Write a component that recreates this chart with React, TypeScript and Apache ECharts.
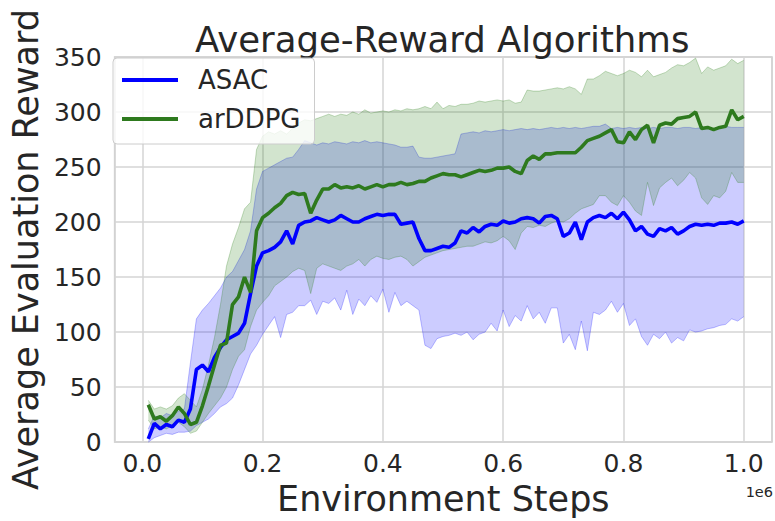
import React, { useEffect, useRef } from "react";
import * as echarts from "echarts";

// Environment steps (in units of 1e6)
const steps = [
  0.01, 0.02, 0.03, 0.04, 0.05, 0.06, 0.07, 0.08, 0.09, 0.1,
  0.11, 0.12, 0.13, 0.14, 0.15, 0.16, 0.17, 0.18, 0.19, 0.2,
  0.21, 0.22, 0.23, 0.24, 0.25, 0.26, 0.27, 0.28, 0.29, 0.3,
  0.31, 0.32, 0.33, 0.34, 0.35, 0.36, 0.37, 0.38, 0.39, 0.4,
  0.41, 0.42, 0.43, 0.44, 0.45, 0.46, 0.47, 0.48, 0.49, 0.5,
  0.51, 0.52, 0.53, 0.54, 0.55, 0.56, 0.57, 0.58, 0.59, 0.6,
  0.61, 0.62, 0.63, 0.64, 0.65, 0.66, 0.67, 0.68, 0.69, 0.7,
  0.71, 0.72, 0.73, 0.74, 0.75, 0.76, 0.77, 0.78, 0.79, 0.8,
  0.81, 0.82, 0.83, 0.84, 0.85, 0.86, 0.87, 0.88, 0.89, 0.9,
  0.91, 0.92, 0.93, 0.94, 0.95, 0.96, 0.97, 0.98, 0.99, 1.0,
];

const asacMean = [
  3, 17, 12, 16, 14, 20, 18, 30, 66, 70,
  64, 77, 86, 93, 96, 99, 108, 135, 160, 172,
  174, 177, 182, 192, 180, 197, 200, 201, 204, 202,
  200, 202, 206, 203, 200, 200, 203, 205, 207, 206,
  207, 207, 198, 199, 200, 185, 174, 174, 176, 178,
  177, 181, 192, 190, 195, 191, 196, 198, 197, 201,
  199, 200, 203, 204, 203, 199, 205, 206, 203, 187,
  190, 200, 184, 200, 204, 206, 204, 208, 203, 209,
  202, 192, 196, 189, 187, 194, 192, 195, 189, 192,
  196, 198, 197, 198, 197, 199, 199, 200, 198, 201,
];

const asacUpper = [
  12, 24, 22, 26, 24, 28, 30, 72, 112, 120,
  126, 133, 140, 150, 155, 165, 175, 192, 230, 246,
  249, 252, 255, 258, 259, 266, 274, 272, 270, 272,
  271, 273, 272, 271, 273, 272, 274, 272, 273, 272,
  271, 270, 268, 268, 269, 259, 258, 258, 259, 260,
  261, 262, 280, 281, 282, 281, 283, 282, 283, 284,
  283, 284, 285, 284, 285, 284, 285, 286, 285, 286,
  285, 286, 285, 286, 287, 287, 289, 285, 286, 285,
  286, 285, 286, 285, 286, 285, 286, 286, 285, 286,
  286, 285, 286, 286, 285, 286, 287, 286, 286, 286,
];

const asacLower = [
  0, 4, 6, 8, 7, 9, 9, 10, 15, 18,
  21, 26, 32, 35, 40, 52, 66, 80, 88, 98,
  106, 114, 95, 116, 118, 124, 124, 129, 116, 128,
  126, 131, 120, 138, 116, 130, 124, 133, 127, 139,
  118, 136, 124, 128, 124, 120, 88, 85, 94, 96,
  97, 99, 97, 100, 93, 98, 100, 108, 101, 120,
  105, 115, 110, 124, 112, 118, 108, 122, 122, 90,
  98, 84, 110, 83, 118, 116, 120, 128, 118, 126,
  106, 112, 96, 88, 98, 94, 100, 90, 95, 92,
  102, 100, 101, 103, 104, 106, 107, 112, 110, 114,
];

const ardMean = [
  34, 21, 23, 19, 24, 32, 26, 16, 18, 33,
  51, 70, 88, 90, 125, 132, 150, 136, 192, 204,
  208, 213, 217, 224, 227, 225, 226, 208, 220, 230,
  230, 234, 231, 232, 231, 233, 230, 232, 234, 232,
  234, 234, 236, 234, 235, 237, 237, 240, 242, 244,
  243, 243, 241, 243, 245, 247, 246, 247, 249, 249,
  250, 246, 244, 256, 260, 257, 262, 262, 263, 263,
  263, 263, 268, 274, 276, 278, 281, 284, 273, 272,
  282, 275, 284, 288, 272, 288, 290, 289, 294, 295,
  296, 300, 285, 286, 284, 286, 287, 302, 293, 296,
];

const ardUpper = [
  38, 30, 32, 30, 33, 40, 44, 38, 32, 48,
  70, 95, 125, 160, 180, 195, 212, 218, 266, 278,
  282, 280, 283, 280, 285, 290, 293, 292, 294, 296,
  298, 296, 298, 297, 300, 298, 302, 299, 300, 301,
  300, 302, 301, 303, 302, 303, 305, 303, 309, 303,
  306, 305, 307, 307, 308, 310, 309, 310, 311, 310,
  311, 308, 309, 320, 319, 319, 320, 321, 322, 321,
  323, 321, 316, 330, 330, 333, 337, 335, 333, 335,
  338, 336, 332, 338, 332, 334, 336, 340, 343, 342,
  345, 349, 335, 341, 338, 340, 342, 348, 344, 347,
];

const ardLower = [
  20, 12, 14, 12, 15, 18, 14, 8, 10, 18,
  26, 33, 40, 50, 66, 78, 84, 105, 120, 127,
  133, 142, 146, 150, 155, 158, 156, 135, 158, 162,
  160, 158, 156, 160, 162, 166, 160, 166, 169, 167,
  166, 168, 169, 166, 160, 164, 168, 170, 172, 174,
  175, 176, 177, 178, 178, 180, 182, 181, 183, 187,
  183, 175, 190, 196, 195, 197, 196, 199, 201, 200,
  203, 208, 212, 214, 216, 224, 224, 218, 215, 224,
  218, 210, 206, 236, 215, 231, 236, 240, 233, 238,
  245, 240, 222, 216, 224, 222, 228, 245, 236, 236,
];

const seriesNames = ["ASAC", "arDDPG"];
const yTicks = { min: 0, max: 350, interval: 50 };

export default function App() {
  const ref = useRef<HTMLDivElement>(null);

  useEffect(() => {
    if (!ref.current) return;
    const chart = echarts.init(ref.current, null, { renderer: "svg" });
    const font = "DejaVu Sans";
    const ink = "#262626";
    const blue = "#0000ff";
    const green = "#2e7a1e";
    const pairs = (ys: number[]) => steps.map((x, i) => [x, ys[i]]);

    const band = (key: string, lo: number[], hi: number[], fill: string, edge: string) => ({
      type: "custom",
      name: key,
      silent: true,
      z: 1,
      encode: { x: 0, y: [1, 2] },
      data: steps.map((x, i) => [x, lo[i], hi[i]]),
      renderItem: (params: any, api: any) => {
        if (params.dataIndex !== 0) return null;
        const top = steps.map((x, i) => api.coord([x, hi[i]]));
        const bottom = steps.map((x, i) => api.coord([x, lo[i]]));
        const poly = top.concat(bottom.slice().reverse());
        return {
          type: "group",
          children: [
            {
              type: "polygon",
              shape: { points: poly },
              style: { fill, opacity: 0.2 },
            },
            {
              type: "polyline",
              shape: { points: top },
              style: { stroke: edge, lineWidth: 1, fill: "none" },
            },
            {
              type: "polyline",
              shape: { points: bottom },
              style: { stroke: edge, lineWidth: 1, fill: "none" },
            },
          ],
        };
      },
    });

    chart.setOption({
      animation: false,
      title: {
        text: "Average-Reward Algorithms",
        left: 195,
        top: 21,
        padding: 0,
        textStyle: { fontFamily: font, fontSize: 35.5, fontWeight: "normal", color: ink },
      },
      legend: {
        data: seriesNames,
        orient: "vertical",
        left: 113,
        top: 58,
        padding: [7, 14, 10, 9],
        itemGap: 9,
        itemWidth: 56,
        itemHeight: 4,
        icon: "rect",
        backgroundColor: "rgba(255,255,255,0.8)",
        borderColor: "#cccccc",
        borderWidth: 1,
        borderRadius: 4,
        z: 10,
        textStyle: { fontFamily: font, fontSize: 26, color: ink, lineHeight: 30, padding: [0, 0, 0, 15] },
      },
      grid: {
        left: 112,
        right: 0,
        top: 57,
        bottom: 74,
        show: true,
        borderColor: "#cccccc",
        borderWidth: 1.5,
      },
      xAxis: {
        type: "value",
        min: -0.046,
        max: 1.047,
        splitNumber: 5,
        axisLine: { show: false },
        axisTick: { show: false },
        splitLine: { lineStyle: { color: "#d4d4d4", width: 1.5 } },
        axisLabel: {
          fontFamily: font,
          fontSize: 25,
          color: ink,
          margin: 9,
          formatter: (v: number) =>
            Math.abs(v / 0.2 - Math.round(v / 0.2)) < 1e-6 ? v.toFixed(1) : "",
        },
        name: "Environment Steps",
        nameLocation: "middle",
        nameGap: 36,
        nameTextStyle: { fontFamily: font, fontSize: 35, color: ink },
      },
      yAxis: {
        type: "value",
        min: yTicks.min,
        max: yTicks.max,
        interval: yTicks.interval,
        axisLine: { show: false },
        axisTick: { show: false },
        splitLine: { lineStyle: { color: "#d4d4d4", width: 1.5 } },
        axisLabel: { fontFamily: font, fontSize: 25, color: ink, margin: 13 },
        name: "Average Evaluation Reward",
        nameLocation: "middle",
        nameGap: 69,
        nameRotate: 90,
        nameTextStyle: { fontFamily: font, fontSize: 35, color: ink },
      },
      graphic: [
        {
          type: "text",
          right: 2,
          top: 484,
          style: { text: "1e6", font: '14.5px "DejaVu Sans"', fill: ink },
        },
      ],
      series: [
        band("asacBand", asacLower, asacUpper, blue, "rgba(0,0,255,0.25)"),
        {
          type: "line",
          name: seriesNames[0],
          data: pairs(asacMean),
          symbol: "none",
          color: blue,
          lineStyle: { width: 3.6, color: blue },
          z: 3,
        },
        band("ardBand", ardLower, ardUpper, "#1e780a", "rgba(30,120,10,0.25)"),
        {
          type: "line",
          name: seriesNames[1],
          data: pairs(ardMean),
          symbol: "none",
          color: green,
          lineStyle: { width: 3.6, color: green },
          z: 3,
        },
      ],
    });

    return () => chart.dispose();
  }, []);

  return (
    <div
      ref={ref}
      style={{ position: "fixed", left: 0, top: 0, width: 775, height: 521, background: "#ffffff" }}
    />
  );
}
